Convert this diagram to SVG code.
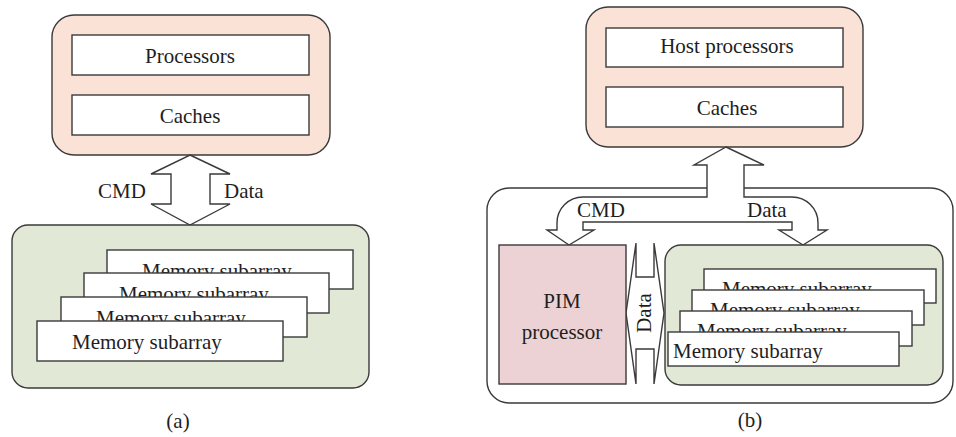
<svg xmlns="http://www.w3.org/2000/svg" width="956" height="437" viewBox="0 0 956 437">
<style>
  text { font-family: "Liberation Serif", "Times New Roman", serif; font-size: 21px; fill: #1e1e1e; }
  .c { text-anchor: middle; }
  .ln { stroke: #3a3a3a; stroke-width: 1.4; }
  .host { fill: #fbe2d6; }
  .white { fill: #ffffff; }
  .mem { fill: #e2e8d6; }
  .pim { fill: #ecd2d4; }
</style>
<defs>
  <clipPath id="ca1"><rect x="107" y="250" width="246" height="23"/></clipPath>
  <clipPath id="ca2"><rect x="84" y="273" width="245" height="24"/></clipPath>
  <clipPath id="ca3"><rect x="61" y="297" width="246" height="24"/></clipPath>
  <clipPath id="cb1"><rect x="704" y="269" width="232" height="21"/></clipPath>
  <clipPath id="cb2"><rect x="692" y="290" width="232" height="21"/></clipPath>
  <clipPath id="cb3"><rect x="680" y="311" width="232" height="21"/></clipPath>
</defs>
<rect width="956" height="437" fill="#ffffff"/>

<!-- (a) -->
<g id="a-host">
  <rect class="host ln" x="52" y="15" width="278" height="140" rx="22"/>
  <g id="a-processors"><rect class="white ln" x="72" y="35" width="237" height="40"/><text class="c" x="190" y="63">Processors</text></g>
  <g id="a-caches"><rect class="white ln" x="72" y="95" width="237" height="40"/><text class="c" x="190" y="123">Caches</text></g>
</g>
<g id="a-connectors">
  <polygon class="white ln" points="190,155 230,174 210,174 210,204 230,204 190,225 151,204 171,204 171,174 151,174"/>
  <text x="98" y="198">CMD</text>
  <text x="224" y="198">Data</text>
</g>
<g id="a-memory">
  <rect class="mem ln" x="12" y="225" width="357" height="163" rx="16"/>
  <g id="a-sub1"><rect class="white ln" x="107" y="250" width="246" height="39"/><text x="142" y="278" clip-path="url(#ca1)">Memory subarray</text></g>
  <g id="a-sub2"><rect class="white ln" x="84" y="273" width="245" height="40"/><text x="119" y="301" clip-path="url(#ca2)">Memory subarray</text></g>
  <g id="a-sub3"><rect class="white ln" x="61" y="297" width="246" height="40"/><text x="96" y="325" clip-path="url(#ca3)">Memory subarray</text></g>
  <g id="a-sub4"><rect class="white ln" x="37" y="321" width="246" height="40"/><text x="72" y="349">Memory subarray</text></g>
</g>
<text class="c" x="178" y="428">(a)</text>

<!-- (b) -->
<g id="b-host">
  <rect class="host ln" x="586" y="7" width="277" height="140" rx="22"/>
  <g id="b-processors"><rect class="white ln" x="606" y="28" width="237" height="39"/><text class="c" x="727" y="53">Host processors</text></g>
  <g id="b-caches"><rect class="white ln" x="606" y="87" width="237" height="40"/><text class="c" x="727" y="115">Caches</text></g>
</g>
<g id="b-container">
  <rect class="white ln" x="487" y="188" width="466" height="215" rx="22"/>
</g>
<g id="b-connectors">
  <path class="white ln" d="M726,147 L764,165 L744,165 L744,197 L792,197 A26,26 0 0 1 818,223 L818,230 L827,230 L803,245 L779,230 L792,230 L792,222 L583,222 L583,230 L594,230 L569,245 L547,230 L557,230 L557,223 A26,26 0 0 1 583,197 L707,197 L707,165 L694,165 Z"/>
  <text x="577" y="217">CMD</text>
  <text x="747" y="217">Data</text>
  <polygon class="white ln" points="626,313 636,243 636,277 654,277 654,243 664,313 654,384 654,349 636,349 636,384"/>
  <text class="c" transform="translate(651,313) rotate(-90)">Data</text>
</g>
<g id="b-pim">
  <rect class="pim ln" x="499" y="245" width="127" height="139"/>
  <text class="c" x="562" y="308">PIM</text>
  <text class="c" x="562" y="339">processor</text>
</g>
<g id="b-memory">
  <rect class="mem ln" x="665" y="245" width="278" height="140" rx="16"/>
  <g id="b-sub1"><rect class="white ln" x="704" y="269" width="232" height="34"/><text x="722" y="296" clip-path="url(#cb1)">Memory subarray</text></g>
  <g id="b-sub2"><rect class="white ln" x="692" y="290" width="232" height="35"/><text x="710" y="317" clip-path="url(#cb2)">Memory subarray</text></g>
  <g id="b-sub3"><rect class="white ln" x="680" y="311" width="232" height="35"/><text x="697" y="338" clip-path="url(#cb3)">Memory subarray</text></g>
  <g id="b-sub4"><rect class="white ln" x="668" y="332" width="231" height="34"/><text x="673" y="358">Memory subarray</text></g>
</g>
<text class="c" x="750" y="427">(b)</text>
</svg>
